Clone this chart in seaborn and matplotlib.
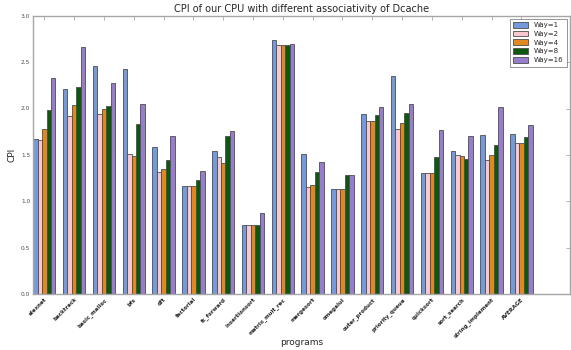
import numpy as np
import pandas as pd
import matplotlib
matplotlib.use("Agg")
import matplotlib.pyplot as plt
import seaborn as sns

programs = ["alexnet", "backtrack", "basic_malloc", "bfs", "dft", "factorial",
            "fc_forward", "insertionsort", "matrix_mult_rec", "mergesort",
            "omegalul", "outer_product", "priority_queue", "quicksort",
            "sort_search", "string_implement", "AVERAGE"]

way1 = [1.67, 2.21, 2.46, 2.43, 1.58, 1.16, 1.54, 0.74, 2.74, 1.51, 1.13,
        1.94, 2.35, 1.30, 1.54, 1.71, 1.72]
way2 = [1.66, 1.92, 1.94, 1.51, 1.32, 1.16, 1.48, 0.745, 2.68, 1.15, 1.13,
        1.86, 1.78, 1.30, 1.50, 1.44, 1.63]
way4 = [1.78, 2.04, 1.99, 1.49, 1.35, 1.16, 1.41, 0.74, 2.68, 1.18, 1.13,
        1.86, 1.84, 1.30, 1.49, 1.50, 1.63]
way8 = [1.98, 2.23, 2.03, 1.83, 1.45, 1.23, 1.70, 0.74, 2.69, 1.32, 1.28,
        1.93, 1.95, 1.48, 1.46, 1.61, 1.69]
way16 = [2.33, 2.66, 2.27, 2.05, 1.70, 1.33, 1.76, 0.87, 2.70, 1.42, 1.28,
         2.02, 2.05, 1.77, 1.70, 2.02, 1.82]

series_names = ["Way=1", "Way=2", "Way=4", "Way=8", "Way=16"]
colors = ["cornflowerblue", "pink", "darkorange", "darkgreen", "mediumpurple"]

df = pd.DataFrame({
    "program": programs * 5,
    "assoc": np.repeat(series_names, len(programs)),
    "CPI": way1 + way2 + way4 + way8 + way16,
})

sns.set_style("white")
plt.rcParams["font.family"] = ["DejaVu Sans"]

fig, ax = plt.subplots(figsize=(5.71, 3.5), dpi=100)
fig.subplots_adjust(left=0.058, right=0.998, top=0.955, bottom=0.16)

sns.barplot(data=df, x="program", y="CPI", hue="assoc", order=programs,
            hue_order=series_names, palette=colors, width=0.75,
            edgecolor="0.3", linewidth=0.6, ax=ax, errorbar=None)

ax.set_xlim(-0.375, 17.625)
ax.set_ylim(0, 3.0)
ax.set_yticks(np.arange(0, 3.01, 0.5))
ax.set_yticklabels([f"{v:.1f}" for v in np.arange(0, 3.01, 0.5)],
                   fontsize=4.2, color="0.3")
ax.set_xticks(range(len(programs)))
ax.set_xticklabels(programs, rotation=45, ha="right", rotation_mode="anchor",
                   fontsize=4.0, fontweight="bold")
ax.tick_params(direction="in", top=True, right=True, length=3, width=0.6,
               color="0.65", pad=2)

for s in ax.spines.values():
    s.set_color("0.65")
    s.set_linewidth(1.0)

ax.set_title("CPI of our CPU with different associativity of Dcache",
             fontsize=7, pad=3)
ax.set_xlabel("programs", fontsize=6.5)
ax.xaxis.set_label_coords(0.5, -0.158)
ax.set_ylabel("CPI", fontsize=6.5, labelpad=3)

leg = ax.legend(loc="upper right", fontsize=5, frameon=True, fancybox=False,
                handlelength=2.2, handleheight=0.9, borderpad=0.5,
                labelspacing=0.35, borderaxespad=0.4)
leg.get_frame().set_edgecolor("0.4")
leg.get_frame().set_linewidth(0.6)

fig.savefig("out.png", dpi=100)
